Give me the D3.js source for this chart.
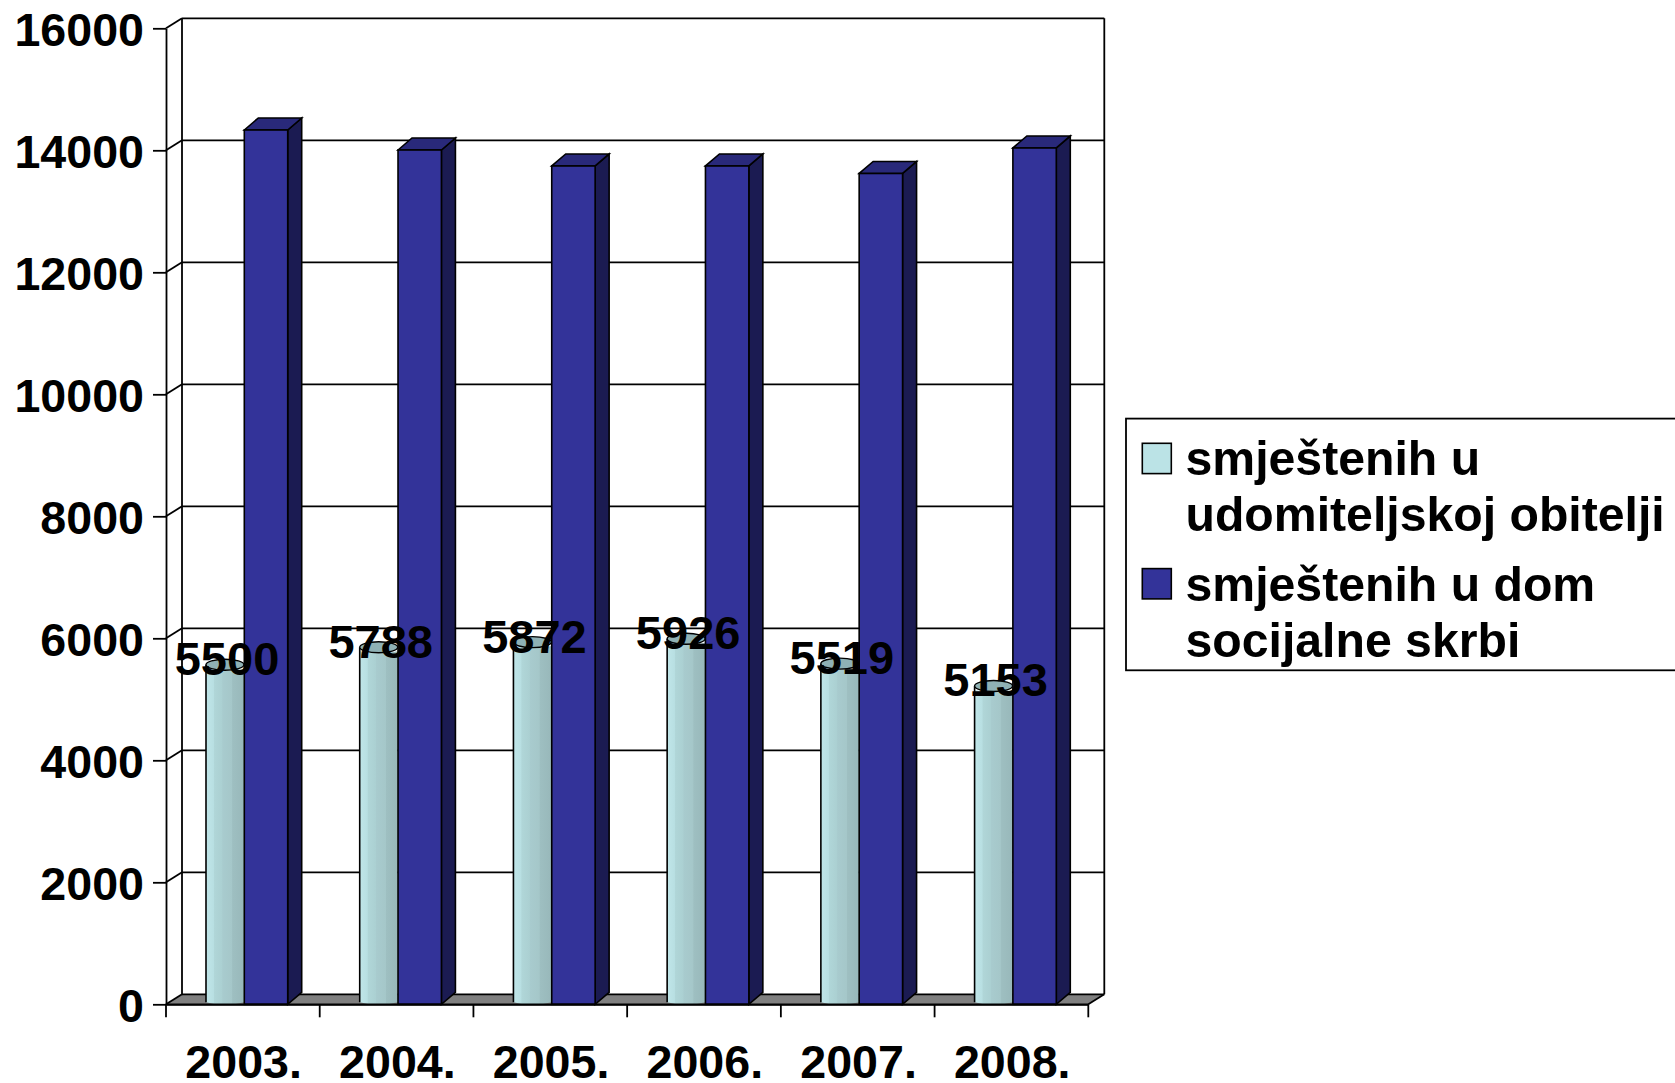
<!DOCTYPE html>
<html>
<head>
<meta charset="utf-8">
<script src="https://cdn.jsdelivr.net/npm/d3@7"></script>
<style>
  html, body { margin: 0; padding: 0; background: #fff; overflow: hidden; }
  svg { display: block; }
  text { font-family: "Liberation Sans", Arial, sans-serif; font-weight: bold; fill: #000; }
</style>
</head>
<body>
<svg id="chart" width="1675" height="1083"></svg>
<script>
// ---- data ----
const years = ['2003.', '2004.', '2005.', '2006.', '2007.', '2008.'];
const udomitelji = [5500, 5788, 5872, 5926, 5519, 5153];
const domovi = [14333, 14005, 13743, 13743, 13620, 14038];
const yTicks = [0, 2000, 4000, 6000, 8000, 10000, 12000, 14000, 16000];
const legendLines = [
  { color: '#bbe3e6', lines: ['smještenih u', 'udomiteljskoj obitelji'] },
  { color: '#333399', lines: ['smještenih u dom', 'socijalne skrbi'] }
];

const svg = d3.select('#chart');
const fs = 46.6;

// front plane of the 3d box, back wall is shifted by (dx, dy)
const x = d3.scaleBand().domain(years).range([166, 1088.3]);
const y = d3.scaleLinear().domain([0, 16000]).range([1004.3, 28.3]);
const dx = 16, dy = -10;
const y0 = y(0), yTop = y(16000), xL = x.range()[0], xR = x.range()[1];

// bar geometry inside one category
const cylX = 40, cylW = 38, barX = 78.3, barW = 43.4, barDx = 14, barDy = -12;

const defs = svg.append('defs');
const grad = defs.append('linearGradient').attr('id', 'cyl');
[[0, '#c0e6e9'], [0.2, '#b8dfe2'], [0.22, '#b0d6d8'], [0.42, '#abd0d2'], [0.44, '#a8cbce'], [0.68, '#a5c7c9'], [0.7, '#9ebfc1'], [1, '#98b8ba']]
  .forEach(s => grad.append('stop').attr('offset', s[0]).attr('stop-color', s[1]));

// ---- box walls ----
const box = svg.append('g').attr('fill', 'none').attr('stroke', '#000').attr('stroke-width', 1.8);
box.append('polygon')
  .attr('points', [[xL, y0], [xL + dx, y0 + dy], [xR + dx, y0 + dy], [xR, y0]].join(' '))
  .attr('fill', '#808080').attr('stroke', 'none');

yTicks.forEach(v => {
  box.append('line').attr('x1', xL).attr('x2', xL + dx).attr('y1', y(v)).attr('y2', y(v) + dy);
  if (v > 0) box.append('line').attr('x1', xL + dx).attr('x2', xR + dx).attr('y1', y(v) + dy).attr('y2', y(v) + dy);
});
box.append('line').attr('x1', xL + dx).attr('x2', xL + dx).attr('y1', yTop + dy).attr('y2', y0 + dy);
box.append('line').attr('x1', xR + dx).attr('x2', xR + dx).attr('y1', yTop + dy).attr('y2', y0 + dy);
box.append('line').attr('x1', xL + dx).attr('x2', xR + dx).attr('y1', y0 + dy).attr('y2', y0 + dy);
box.append('line').attr('x1', xR).attr('x2', xR + dx).attr('y1', y0).attr('y2', y0 + dy);

// ---- axes ----
const yAxis = svg.append('g').attr('transform', `translate(${xL},0)`)
  .call(d3.axisLeft(y).tickValues(yTicks).tickFormat(d3.format('d')).tickSize(13).tickPadding(9).tickSizeOuter(0));
const xAxis = svg.append('g').attr('transform', `translate(0,${y0})`)
  .call(d3.axisBottom(x).tickSize(0).tickPadding(40));
yAxis.selectAll('line,path').attr('stroke', '#000').attr('stroke-width', 1.8);
xAxis.selectAll('path').attr('stroke', '#000').attr('stroke-width', 1.8);
yAxis.selectAll('text').attr('font-size', fs).attr('dy', 17).attr('y', 0).attr('fill', '#000').attr('font-family', null);
xAxis.selectAll('text').attr('font-size', fs).attr('x', 0.8).attr('y', 0).attr('dy', 73.5).attr('fill', '#000').attr('font-family', null);
xAxis.selectAll('.edge').data(d3.range(years.length + 1)).join('line')
  .attr('class', 'edge')
  .attr('x1', i => xL + i * x.step()).attr('x2', i => xL + i * x.step())
  .attr('y1', 0).attr('y2', 13)
  .attr('stroke', '#000').attr('stroke-width', 1.8);

// ---- bars ----
const marks = svg.append('g');

years.forEach((yr, i) => {
  const cx = x(yr) + cylX;
  const top = y(udomitelji[i]);
  const g = marks.append('g');
  // cylinder: body, rounded foot, top ellipse
  g.append('path')
    .attr('d', `M${cx},${top} L${cx},${y0 - 2} Q${cx + cylW / 2},${y0 + 3} ${cx + cylW},${y0 - 2} L${cx + cylW},${top} Q${cx + cylW / 2},${top + 4} ${cx},${top} Z`)
    .attr('fill', 'url(#cyl)');
  g.append('line').attr('x1', cx).attr('x2', cx).attr('y1', top - 4).attr('y2', y0 - 2).attr('stroke', '#000').attr('stroke-width', 1.6);
  g.append('ellipse').attr('cx', cx + cylW / 2).attr('cy', top - 4).attr('rx', cylW / 2).attr('ry', 5.5)
    .attr('fill', '#8fb1b5').attr('stroke', '#000').attr('stroke-width', 1.4);

  // 3d bar: side, top, front
  const bx = x(yr) + barX;
  const bt = y(domovi[i]);
  const side = [[bx + barW, bt], [bx + barW + barDx, bt + barDy], [bx + barW + barDx, y0 + barDy], [bx + barW, y0]];
  const roof = [[bx, bt], [bx + barDx, bt + barDy], [bx + barW + barDx, bt + barDy], [bx + barW, bt]];
  g.append('polygon').attr('points', side.join(' ')).attr('fill', '#1b1b52').attr('stroke', '#000').attr('stroke-width', 1.6);
  g.append('polygon').attr('points', roof.join(' ')).attr('fill', '#29297a').attr('stroke', '#000').attr('stroke-width', 1.6);
  g.append('rect').attr('x', bx).attr('y', bt).attr('width', barW).attr('height', y0 - bt)
    .attr('fill', '#333399').attr('stroke', '#000').attr('stroke-width', 1.6);
});

// ---- base line over the floor ----
svg.append('line').attr('x1', xL).attr('x2', xR).attr('y1', y0).attr('y2', y0).attr('stroke', '#000').attr('stroke-width', 1.8);

// ---- value labels ----
svg.append('g').selectAll('text').data(udomitelji).join('text')
  .attr('x', (d, i) => x(years[i]) + 61)
  .attr('y', d => y(d) + 6.5)
  .attr('text-anchor', 'middle')
  .attr('font-size', fs + 0.4)
  .text(d => d);

// ---- legend ----
const legend = svg.append('g');
legend.append('rect').attr('x', 1126).attr('y', 418.6).attr('width', 600).attr('height', 251.7)
  .attr('fill', '#fff').attr('stroke', '#000').attr('stroke-width', 1.8);
const legendSwatchY = [443.3, 568.6];
const legendBase = [[474.5, 531], [600.7, 656.7]];
legendLines.forEach((item, i) => {
  legend.append('rect').attr('x', 1142.3).attr('y', legendSwatchY[i]).attr('width', 29).attr('height', 30.3)
    .attr('fill', item.color).attr('stroke', '#000').attr('stroke-width', 1.6);
  item.lines.forEach((t, j) => {
    legend.append('text').attr('x', 1185.5).attr('y', legendBase[i][j]).attr('font-size', 48.2).text(t);
  });
});
</script>
</body>
</html>
